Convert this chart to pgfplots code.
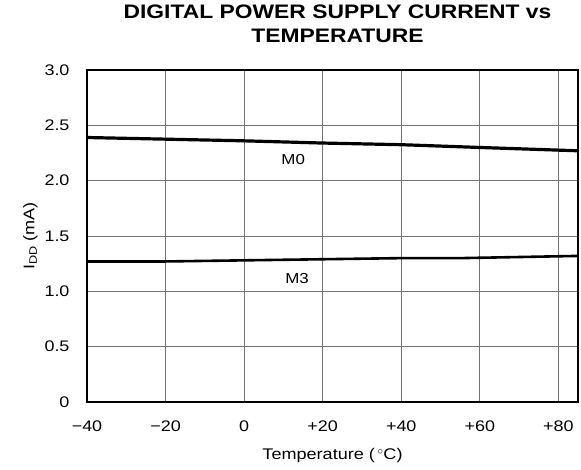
\documentclass[border=0pt]{standalone}
\usepackage{pgfplots}
\pgfplotsset{compat=1.18}
\usepackage{fontspec}
\setmainfont{Liberation Sans}[FakeStretch=1.17]
\begin{document}
\begin{tikzpicture}
\begin{axis}[
  scale only axis,
  width=491bp, height=332bp,
  xmin=-40, xmax=85, ymin=0, ymax=3,
  xtick={-40,-20,0,20,40,60,80},
  xticklabels={−40,−20,0,+20,+40,+60,+80},
  ytick={0,0.5,1,1.5,2,2.5,3},
  yticklabels={0,0.5,1.0,1.5,2.0,2.5,3.0},
  major tick length=0pt,
  grid=major,
  major grid style={gray!90!black, line width=0.8bp},
  axis line style={black, line width=2bp},
  ticklabel style={font=\fontsize{15.4}{17}\selectfont},
  xticklabel style={yshift=-15bp},
  yticklabel style={xshift=-14bp},
  xlabel={Temperature (\,$^\circ$C)},
  ylabel={I\textsubscript{DD} (mA)},
  label style={font=\fontsize{15.5}{17}\selectfont},
  xlabel style={yshift=-10bp},
  ylabel style={yshift=0bp},
  title={DIGITAL POWER SUPPLY CURRENT vs\\TEMPERATURE},
  title style={font=\fontsize{19.6}{23.5}\selectfont\bfseries, align=center, yshift=18bp, xshift=5bp, overlay},
  /pgf/number format/assume math mode=true,
  clip=false,
]
\addplot[black, line width=3.2bp] coordinates {
 (-40,2.39) (-20,2.375) (0,2.36) (20,2.34) (40,2.325) (60,2.30) (85,2.27)};
\addplot[black, line width=2.6bp] coordinates {
 (-40,1.27) (-20,1.27) (0,1.28) (20,1.29) (40,1.30) (55,1.30) (85,1.32)};
\node[font=\fontsize{14.5}{17}\selectfont] at (axis cs:12.5,2.19) {M0};
\node[font=\fontsize{14.5}{17}\selectfont] at (axis cs:13.5,1.12) {M3};
\end{axis}
\path (current axis.south west) ++(-87bp,-68bp) coordinate (bl);
\path (current axis.north east) ++(3bp,70bp) coordinate (tr);
\useasboundingbox (bl) rectangle (tr);
\end{tikzpicture}
\end{document}
